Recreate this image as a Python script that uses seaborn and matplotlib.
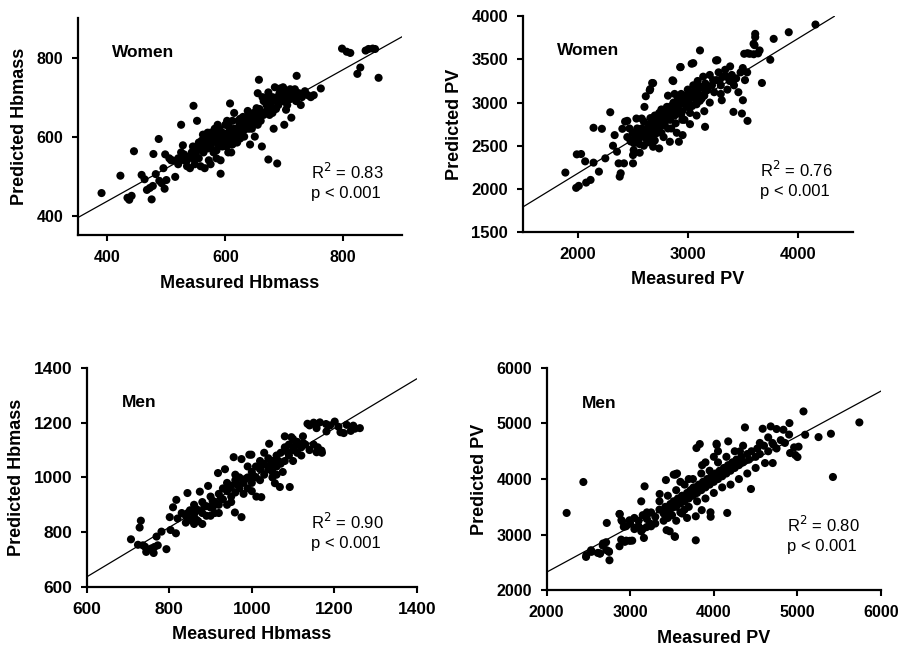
import numpy as np
import pandas as pd
import matplotlib
matplotlib.use("Agg")
import matplotlib.pyplot as plt
import seaborn as sns

# Women, Hbmass (measured, predicted)
women_hb = [
    (390, 457), (422, 501), (434, 445), (437, 440), (441, 450), (445, 563), (458, 503), (463, 492),
    (467, 465), (472, 470), (475, 441), (477, 475), (478, 556), (482, 505), (487, 594), (488, 488),
    (492, 482), (495, 520), (497, 468), (498, 555), (500, 490), (505, 545), (508, 540), (515, 498),
    (520, 530), (525, 630), (528, 578), (530, 555), (535, 540), (540, 520), (545, 575), (546, 678),
    (548, 530), (552, 640), (555, 545), (558, 525), (560, 590), (563, 560), (565, 580), (568, 600),
    (570, 570), (572, 540), (575, 610), (578, 585), (580, 560), (582, 620), (585, 595), (588, 575),
    (590, 605), (592, 506), (592, 540), (598, 590), (600, 630), (602, 575), (605, 610), (608, 684),
    (608, 595), (610, 560), (612, 640), (615, 660), (618, 605), (620, 585), (622, 640), (625, 615),
    (628, 630), (630, 650), (632, 600), (635, 640), (638, 665), (640, 620), (642, 580), (645, 645),
    (648, 630), (650, 600), (652, 650), (655, 710), (657, 744), (658, 670), (660, 640), (662, 575),
    (665, 690), (668, 660), (670, 680), (672, 700), (673, 542), (675, 655), (680, 690), (682, 620),
    (684, 725), (686, 670), (688, 532), (688, 700), (692, 710), (695, 690), (698, 725), (700, 630),
    (702, 700), (705, 680), (708, 715), (710, 695), (712, 648), (715, 705), (718, 720), (720, 690),
    (721, 754), (725, 710), (728, 680), (730, 700), (735, 715), (740, 705), (745, 700), (750, 705),
    (762, 722), (798, 823), (806, 815), (812, 812), (824, 759), (829, 775), (838, 818), (843, 822),
    (850, 823), (854, 822), (860, 749),
    (555, 585), (560, 565), (565, 595), (570, 585), (575, 575), (580, 600), (585, 565), (590, 585),
    (595, 610), (600, 590), (605, 580), (610, 600), (615, 620), (620, 600), (625, 595), (570, 610),
    (580, 590), (590, 620), (600, 600), (560, 575), (550, 555), (540, 550), (530, 540), (520, 545),
    (510, 540), (640, 640), (645, 620), (650, 640), (660, 660), (670, 665), (680, 660), (690, 680),
    (700, 690), (700, 710), (710, 720), (680, 700), (665, 655), (655, 630), (635, 625), (625, 645),
    (615, 585), (605, 560), (595, 575), (585, 545), (575, 530), (565, 520), (545, 545), (535, 525),
    (525, 560), (562, 605), (572, 592), (583, 610), (596, 597), (606, 625), (617, 612), (628, 608),
    (638, 652), (648, 660), (658, 648), (668, 690), (678, 675), (688, 688), (698, 700), (708, 700),
    (718, 700), (552, 570), (543, 560), (533, 548), (587, 630), (603, 640), (612, 580), (623, 625),
    (633, 618), (643, 632), (653, 672), (663, 700), (673, 712), (693, 722), (703, 668),
]

# Women, PV
women_pv = [
    (1887, 2189), (1985, 2012), (2009, 2035), (1991, 2400), (2030, 2404), (2067, 2319), (2076, 2073),
    (2116, 2104), (2143, 2708), (2192, 2200), (2143, 2304), (2219, 2696), (2250, 2354), (2295, 2888),
    (2320, 2500), (2335, 2623), (2356, 2431), (2371, 2296), (2381, 2142), (2390, 2181), (2420, 2296),
    (2405, 2696), (2450, 2788), (2502, 2296), (2502, 2392), (2508, 2450), (2533, 2815), (2581, 2815),
    (2563, 2419), (2606, 2950), (2618, 3073), (2654, 3142), (2676, 3227), (2654, 2650), (2685, 2488),
    (2746, 2727), (2740, 2469), (2837, 2546), (2861, 3258), (2919, 2546), (2935, 3412), (2953, 2623),
    (3035, 3450), (3111, 3604), (3157, 2719), (3126, 3046), (3257, 3488), (3309, 3027), (3385, 3419),
    (3415, 2892), (3492, 2873), (3501, 3027), (3543, 2788), (3513, 3565), (3562, 3565), (3598, 3681),
    (3613, 3796), (3613, 3758), (3653, 3604), (3674, 3227), (3750, 3496), (3781, 3738), (3918, 3815),
    (4161, 3904), (3600, 3560), (3640, 3570), (2868, 3249), (2931, 3410), (3050, 3457), (2685, 3225),
    (2658, 3156), (3269, 3491), (3543, 3572), (3607, 3665),
    (2450, 2600), (2480, 2550), (2500, 2650), (2520, 2600), (2540, 2700), (2560, 2640), (2580, 2700),
    (2600, 2620), (2600, 2780), (2620, 2680), (2640, 2740), (2650, 2600), (2660, 2820), (2680, 2700),
    (2690, 2760), (2700, 2850), (2710, 2640), (2720, 2800), (2730, 2720), (2740, 2880), (2750, 2780),
    (2760, 2650), (2770, 2840), (2780, 2900), (2790, 2760), (2800, 2820), (2810, 2950), (2820, 2700),
    (2830, 2880), (2840, 2800), (2850, 2960), (2860, 2900), (2870, 3000), (2880, 2850), (2890, 2760),
    (2900, 2940), (2910, 3050), (2920, 2880), (2930, 2980), (2940, 3100), (2950, 2900), (2960, 3020),
    (2970, 2800), (2980, 3080), (2990, 2950), (3000, 3150), (3010, 3000), (3020, 2880), (3030, 3080),
    (3040, 2960), (3050, 3200), (3060, 3050), (3070, 3120), (3080, 2980), (3090, 3250), (3100, 3100),
    (3110, 3020), (3120, 3180), (3140, 3300), (3150, 3080), (3160, 3220), (3180, 3150), (3200, 3320),
    (3220, 3200), (3240, 3120), (3260, 3260), (3280, 3350), (3300, 3200), (3320, 3300), (3340, 3380),
    (3360, 3150), (3380, 3250), (3400, 3320), (3420, 3200), (3440, 3280), (3460, 3120), (3480, 3350),
    (3500, 3400), (3520, 3260), (3540, 3350), (2760, 2920), (2820, 3080), (2880, 3100), (2700, 2560),
    (2640, 2540), (2560, 2520), (2600, 2500), (2780, 2600), (2850, 2700), (2900, 2650), (2950, 2800),
    (3020, 2750), (3080, 2850), (3200, 3000), (3300, 3100), (3150, 2900), (2550, 2580), (2470, 2700),
    (2430, 2780), (2620, 2580), (2680, 2640), (2720, 2680), (2780, 2740), (2840, 2860), (2880, 2920),
    (2940, 2860), (2990, 3050), (3040, 3120), (3100, 3180), (3160, 3140), (3230, 3260), (3290, 3260),
    (3350, 3300), (3410, 3240), (2510, 2530), (2570, 2600), (2660, 2660), (2760, 2760), (2810, 2880),
]

# Men, Hbmass
men_hb = [
    (707, 774), (731, 842), (728, 817), (724, 754), (741, 747), (757, 741), (769, 784), (781, 802),
    (793, 738), (803, 808), (816, 796), (801, 855), (817, 918), (809, 891), (844, 943), (866, 845),
    (874, 948), (894, 969), (906, 894), (918, 1016), (935, 1030), (959, 872), (975, 855), (956, 1074),
    (975, 1067), (994, 1083), (1011, 930), (736, 752), (744, 728), (764, 746), (772, 752), (762, 724),
    (1135, 1196), (1165, 1201), (1201, 1204), (1230, 1192), (1262, 1180), (1223, 1162), (1181, 1168),
    (1157, 1180), (1246, 1189), (1169, 1098), (1157, 1092), (1124, 1150), (1092, 965), (1068, 965),
    (1023, 928), (1042, 1123), (1096, 1147), (999, 1083), (1056, 979),
    (820, 850), (830, 870), (840, 860), (850, 880), (850, 845), (860, 900), (860, 865), (870, 880),
    (870, 840), (880, 910), (880, 870), (890, 895), (890, 860), (900, 930), (900, 890), (910, 910),
    (910, 870), (920, 940), (920, 900), (930, 960), (930, 920), (940, 950), (940, 900), (950, 970),
    (950, 930), (960, 990), (960, 945), (970, 960), (970, 1000), (980, 980), (980, 940), (990, 1000),
    (990, 960), (1000, 1020), (1000, 980), (1010, 1040), (1010, 1000), (1020, 1030), (1020, 1060),
    (1030, 1010), (1030, 1050), (1040, 1070), (1040, 1030), (1050, 1060), (1050, 1020), (1060, 1080),
    (1060, 1040), (1070, 1090), (1070, 1050), (1080, 1110), (1080, 1060), (1090, 1080), (1090, 1120),
    (1100, 1100), (1100, 1060), (1110, 1130), (1110, 1090), (1120, 1110), (1130, 1120), (1140, 1100),
    (1150, 1120), (1050, 1000), (1060, 1010), (990, 1040), (940, 980), (900, 860), (880, 830),
    (860, 830), (840, 835), (960, 1010), (1020, 990), (1000, 950), (950, 910), (920, 870), (1030, 1090),
    (1075, 1020), (1120, 1080), (1100, 1140), (1080, 1150), (1160, 1110), (1170, 1090), (1210, 1185),
    (1190, 1190), (1240, 1170), (1250, 1178), (1215, 1165), (1140, 1190), (1150, 1200), (1180, 1195),
    (845, 870), (865, 885), (885, 895), (905, 915), (925, 925), (945, 960), (965, 975), (985, 995),
    (1005, 1005), (1025, 1045), (1045, 1045), (1065, 1060), (1085, 1095), (1105, 1115), (1125, 1125),
]

# Men, PV
men_pv = [
    (2240, 3390), (2440, 3947), (2472, 2599), (2532, 2719), (2612, 2671), (2640, 2659), (2672, 2803),
    (2712, 2863), (2720, 3210), (2744, 2701), (2752, 2539), (2872, 2791), (2872, 3372), (2904, 3240),
    (2892, 2910), (2952, 2892), (3024, 2892), (2992, 3258), (3172, 3869), (3164, 2940), (3132, 3599),
    (3132, 3060), (3352, 3731), (3472, 3060), (3532, 2970), (3540, 4079), (3792, 4558), (3832, 4630),
    (3784, 3330), (3784, 2898), (3960, 3402), (4032, 4636), (4160, 3390), (4172, 4678), (4372, 4929),
    (4444, 3821), (4312, 4498), (5072, 5217), (5252, 4755), (5400, 4815), (5424, 4037), (5740, 5019),
    (4960, 4570), (5000, 4396), (5092, 4797), (4912, 4468), (4612, 4288), (4704, 4288), (4712, 4617),
    (4832, 4887), (4904, 5007), (4584, 4905), (4680, 4947), (4974, 4432), (5013, 4582),
    (2875, 3369), (2895, 3261), (2923, 3140), (2995, 2888), (2935, 2870), (2675, 2841), (2716, 2721),
    (2476, 2631), (2536, 2690), (2635, 2661), (2747, 2690), (3535, 2960), (3427, 3982), (3547, 4090),
    (3195, 3135), (3622, 3609), (3754, 3846), (4035, 4613), (3962, 3321), (3855, 3441), (3435, 3081),
    (3235, 3202),
    (3000, 3200), (3050, 3300), (3100, 3250), (3150, 3350), (3200, 3280), (3250, 3400), (3300, 3320),
    (3350, 3450), (3400, 3380), (3420, 3500), (3450, 3420), (3480, 3550), (3500, 3480), (3520, 3600),
    (3550, 3500), (3570, 3650), (3600, 3560), (3620, 3700), (3650, 3600), (3680, 3750), (3700, 3650),
    (3720, 3800), (3750, 3700), (3770, 3850), (3800, 3750), (3820, 3900), (3850, 3800), (3870, 3950),
    (3900, 3850), (3920, 4000), (3950, 3900), (3970, 4050), (4000, 3950), (4020, 4100), (4050, 4000),
    (4070, 4150), (4100, 4050), (4120, 4200), (4150, 4100), (4170, 4250), (4200, 4150), (4220, 4300),
    (4250, 4200), (4270, 4350), (4300, 4250), (4330, 4400), (4350, 4300), (4400, 4450), (4420, 4350),
    (4450, 4500), (4500, 4400), (4520, 4550), (4550, 4450), (4600, 4600), (4650, 4500), (4700, 4650),
    (4750, 4550), (4800, 4700), (4850, 4650), (4900, 4800), (3300, 3200), (3400, 3250), (3500, 3350),
    (3600, 3400), (3700, 3500), (3800, 3600), (3900, 3650), (4000, 3750), (3350, 3600), (3450, 3700),
    (3550, 3800), (3650, 3900), (3750, 4000), (3850, 4100), (3950, 4150), (4050, 4300), (4150, 4400),
    (4250, 4500), (3100, 3150), (3200, 3400), (3150, 3100), (3250, 3150), (3050, 3100), (2950, 3150),
    (3600, 3950), (3700, 4000), (4100, 3850), (4200, 3900), (4300, 4000), (4400, 4100), (4500, 4200),
    (3450, 3300), (3550, 3250), (3650, 3450), (3900, 4300), (4050, 4500), (4350, 4600), (4550, 4650),
    (4650, 4750), (4750, 4900), (3520, 4080), (3560, 4100), (3620, 3380), (3680, 3300), (3860, 4250),
    (4000, 4400),
]

# regression line (point at left edge, slope)
lines = {
    "women_hb": ((350, 395), 0.833),
    "women_pv": ((1500, 1790), 0.78),
    "men_hb": ((600, 637), 0.904),
    "men_pv": ((2000, 2324), 0.815),
}
stats = {
    "women_hb": ("0.83", "0.001"),
    "women_pv": ("0.76", "0.001"),
    "men_hb": ("0.90", "0.001"),
    "men_pv": ("0.80", "0.001"),
}

sns.set_style("ticks", {"axes.edgecolor": "black", "text.color": "black",
                        "axes.labelcolor": "black", "xtick.color": "black",
                        "ytick.color": "black"})
plt.rcParams["font.family"] = ["Liberation Sans", "DejaVu Sans"]

fig = plt.figure(figsize=(9.14, 6.5), dpi=100)

panels = [
    # key, data, group, xlabel, ylabel, xlim, ylim, xticks, yticks, axes rect, stats pos, tick size
    ("women_hb", women_hb, "Women", "Measured Hbmass", "Predicted Hbmass",
     (350, 900), (350, 900), [400, 600, 800], [400, 600, 800],
     [0.0853, 0.638, 0.3547, 0.334], (0.72, 0.29), 11.5),
    ("women_pv", women_pv, "Women", "Measured PV", "Predicted PV",
     (1500, 4500), (1500, 4000), [2000, 3000, 4000], [1500, 2000, 2500, 3000, 3500, 4000],
     [0.572, 0.643, 0.361, 0.332], (0.72, 0.287), 12),
    ("men_hb", men_hb, "Men", "Measured Hbmass", "Predicted Hbmass",
     (600, 1400), (600, 1400), [600, 800, 1000, 1200, 1400], [600, 800, 1000, 1200, 1400],
     [0.095, 0.097, 0.361, 0.337], (0.68, 0.297), 12.5),
    ("men_pv", men_pv, "Men", "Measured PV", "Predicted PV",
     (2000, 6000), (2000, 6000), [2000, 3000, 4000, 5000, 6000], [2000, 3000, 4000, 5000, 6000],
     [0.598, 0.092, 0.366, 0.342], (0.72, 0.293), 11.5),
]

for key, pts, group, xlab, ylab, xlim, ylim, xt, yt, rect, (sx, sy), tsize in panels:
    ax = fig.add_axes(rect)
    df = pd.DataFrame(pts, columns=["measured", "predicted"])
    sns.scatterplot(data=df, x="measured", y="predicted", ax=ax, color="black",
                    s=34, edgecolor="none", clip_on=False)
    p0, slope = lines[key]
    ax.axline(p0, slope=slope, color="black", lw=0.9)
    ax.set_xlim(*xlim)
    ax.set_ylim(*ylim)
    ax.set_xticks(xt)
    ax.set_yticks(yt)
    ax.set_xlabel(xlab, fontsize=13, fontweight="bold", labelpad=7)
    ax.set_ylabel(ylab, fontsize=13, fontweight="bold", labelpad=6)
    for lab in ax.get_xticklabels() + ax.get_yticklabels():
        lab.set_fontweight("bold")
    ax.tick_params(labelsize=tsize, width=1.5, length=4.5, direction="out", pad=6,
                   color="black", labelcolor="black")
    for side in ["left", "bottom"]:
        ax.spines[side].set_linewidth(1.6)
        ax.spines[side].set_color("black")
    sns.despine(ax=ax)
    ax.text(0.105, 0.84, group, transform=ax.transAxes, fontsize=12.5,
            fontweight="bold", va="center", ha="left")
    r2, p = stats[key]
    ax.text(sx, sy, "R$^2$ = " + r2, transform=ax.transAxes, fontsize=12,
            va="center", ha="left")
    ax.text(sx, sy - 0.097, "p < " + p, transform=ax.transAxes, fontsize=12,
            va="center", ha="left")

fig.savefig("out.png", dpi=100)
